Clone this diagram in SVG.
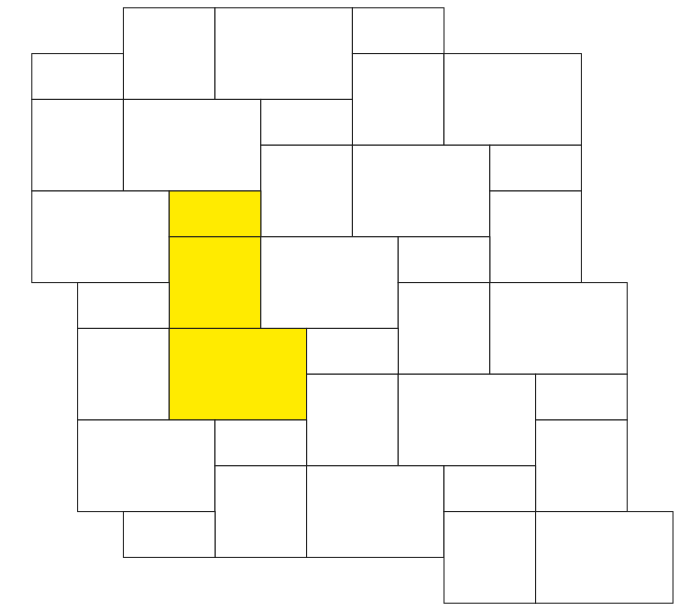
<svg xmlns="http://www.w3.org/2000/svg" width="690" height="604" viewBox="0 0 690 604">
<style>
rect{fill:#ffffff;stroke:#1a1a1a;stroke-width:1}
.y{fill:#ffeb00}
</style>
<rect x="0" y="0" width="690" height="604" style="fill:#ffffff;stroke:none"/>
<g id="r1"><rect x="123.4" y="7.8" width="91.6" height="91.6"/></g>
<g id="r2"><rect x="215" y="7.8" width="137.4" height="91.6"/></g>
<g id="r3"><rect x="352.4" y="7.8" width="91.6" height="45.8"/></g>
<g id="r4"><rect x="31.8" y="53.6" width="91.6" height="45.8"/></g>
<g id="r5"><rect x="352.4" y="53.6" width="91.6" height="91.6"/></g>
<g id="r6"><rect x="444" y="53.6" width="137.4" height="91.6"/></g>
<g id="r7"><rect x="31.8" y="99.4" width="91.6" height="91.6"/></g>
<g id="r8"><rect x="123.4" y="99.4" width="137.4" height="91.6"/></g>
<g id="r9"><rect x="260.8" y="99.4" width="91.6" height="45.8"/></g>
<g id="r10"><rect x="260.8" y="145.2" width="91.6" height="91.6"/></g>
<g id="r11"><rect x="352.4" y="145.2" width="137.4" height="91.6"/></g>
<g id="r12"><rect x="489.8" y="145.2" width="91.6" height="45.8"/></g>
<g id="r13"><rect x="31.8" y="191" width="137.4" height="91.6"/></g>
<g id="r14"><rect class="y" x="169.2" y="191" width="91.6" height="45.8"/></g>
<g id="r15"><rect x="489.8" y="191" width="91.6" height="91.6"/></g>
<g id="r16"><rect class="y" x="169.2" y="236.8" width="91.6" height="91.6"/></g>
<g id="r17"><rect x="260.8" y="236.8" width="137.4" height="91.6"/></g>
<g id="r18"><rect x="398.2" y="236.8" width="91.6" height="45.8"/></g>
<g id="r19"><rect x="77.6" y="282.6" width="91.6" height="45.8"/></g>
<g id="r20"><rect x="398.2" y="282.6" width="91.6" height="91.6"/></g>
<g id="r21"><rect x="489.8" y="282.6" width="137.4" height="91.6"/></g>
<g id="r22"><rect x="77.6" y="328.4" width="91.6" height="91.6"/></g>
<g id="r23"><rect class="y" x="169.2" y="328.4" width="137.4" height="91.6"/></g>
<g id="r24"><rect x="306.6" y="328.4" width="91.6" height="45.8"/></g>
<g id="r25"><rect x="306.6" y="374.2" width="91.6" height="91.6"/></g>
<g id="r26"><rect x="398.2" y="374.2" width="137.4" height="91.6"/></g>
<g id="r27"><rect x="535.6" y="374.2" width="91.6" height="45.8"/></g>
<g id="r28"><rect x="77.6" y="420" width="137.4" height="91.6"/></g>
<g id="r29"><rect x="215" y="420" width="91.6" height="45.8"/></g>
<g id="r30"><rect x="535.6" y="420" width="91.6" height="91.6"/></g>
<g id="r31"><rect x="215" y="465.8" width="91.6" height="91.6"/></g>
<g id="r32"><rect x="306.6" y="465.8" width="137.4" height="91.6"/></g>
<g id="r33"><rect x="444" y="465.8" width="91.6" height="45.8"/></g>
<g id="r34"><rect x="123.4" y="511.6" width="91.6" height="45.8"/></g>
<g id="r35"><rect x="444" y="511.6" width="91.6" height="91.6"/></g>
<g id="r36"><rect x="535.6" y="511.6" width="137.4" height="91.6"/></g>
<g id="connectors"></g>
</svg>
